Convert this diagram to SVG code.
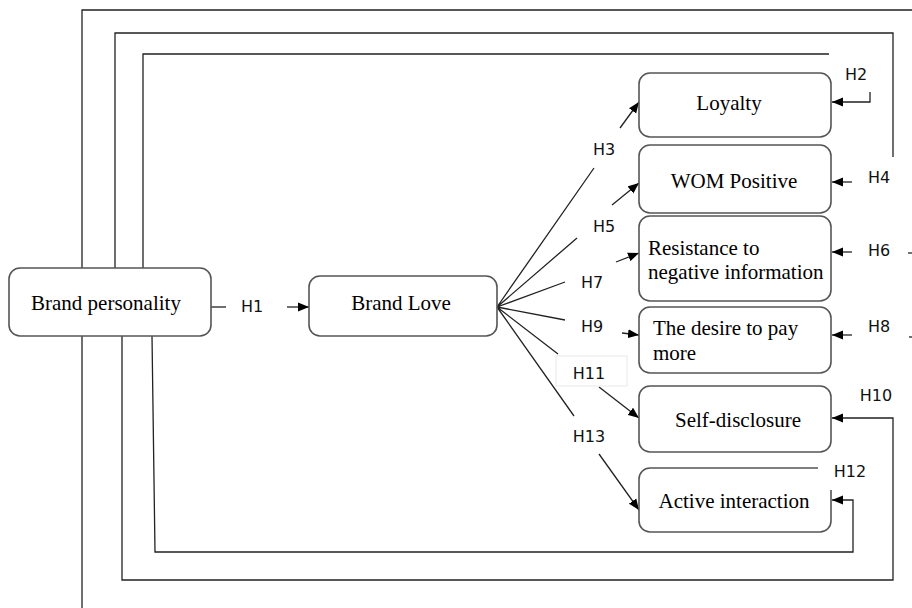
<svg xmlns="http://www.w3.org/2000/svg" width="912" height="608" viewBox="0 0 912 608">
<style>
.node{fill:#fff;stroke:#555;stroke-width:1.6}
.nt{font-family:"Liberation Serif","Times New Roman",serif;font-size:21px;fill:#000}
.ln{fill:none;stroke:#222;stroke-width:1.3}
.lb{font-family:"DejaVu Sans","Verdana",sans-serif;font-size:16px;fill:#111}
</style>
<defs>
<marker id="ah" markerUnits="userSpaceOnUse" markerWidth="12" markerHeight="10" refX="11" refY="5" orient="auto">
<path d="M0,0.5 L11,5 L0,9.5 Z" fill="#000"/>
</marker>
</defs>
<rect width="912" height="608" fill="#fff"/>
<g id="connectors">
<path class="ln" d="M82,268 V10 H912"/>
<path class="ln" d="M82,336 V608"/>
<path class="ln" d="M115,268 V33 H893 V157"/>
<path class="ln" d="M122,336 V580 H893 V418 H832" marker-end="url(#ah)"/>
<path class="ln" d="M143,268 V54 H829"/>
<path class="ln" d="M152,336 L155,552 H853 V500 H832" marker-end="url(#ah)"/>
<path class="ln" d="M870,92 V102 H832" marker-end="url(#ah)"/>
<path class="ln" d="M852,182 H832" marker-end="url(#ah)"/>
<path class="ln" d="M852,252 H832" marker-end="url(#ah)"/>
<path class="ln" d="M852,335 H832" marker-end="url(#ah)"/>
<path class="ln" d="M908,253 H912"/>
<path class="ln" d="M909,337 H912"/>
<path class="ln" d="M211,307 H226"/>
<path class="ln" d="M287,307 H309" marker-end="url(#ah)"/>
<path class="ln" d="M497,307 L594,168 M497,307 L577,238 M497,307 L565,282 M497,307 L565,320 M497,307 L558,354 M497,307 L574,416"/>
<path class="ln" d="M620,128 L639,102" marker-end="url(#ah)"/>
<path class="ln" d="M612,205 L639,183" marker-end="url(#ah)"/>
<path class="ln" d="M616,262 L639,253" marker-end="url(#ah)"/>
<path class="ln" d="M622,333 L639,335" marker-end="url(#ah)"/>
<path class="ln" d="M599,387 L639,418" marker-end="url(#ah)"/>
<path class="ln" d="M599,454 L639,510" marker-end="url(#ah)"/>
</g>
<g id="brand-personality">
<rect class="node" x="9" y="268" width="202" height="68" rx="11"/>
<text class="nt" x="106" y="310" text-anchor="middle">Brand personality</text>
</g>
<g id="brand-love">
<rect class="node" x="309" y="276" width="188" height="60" rx="11"/>
<text class="nt" x="401" y="310" text-anchor="middle">Brand Love</text>
</g>
<g id="loyalty">
<rect class="node" x="639" y="73" width="192" height="64" rx="11"/>
<text class="nt" x="729" y="110" text-anchor="middle">Loyalty</text>
</g>
<g id="wom-positive">
<rect class="node" x="639" y="145" width="192" height="68" rx="11"/>
<text class="nt" x="734" y="188" text-anchor="middle">WOM Positive</text>
</g>
<g id="resistance">
<rect class="node" x="639" y="216" width="192" height="85" rx="11"/>
<text class="nt" x="648" y="255">Resistance to</text>
<text class="nt" x="648" y="279">negative information</text>
</g>
<g id="desire-to-pay">
<rect class="node" x="639" y="307" width="192" height="66" rx="11"/>
<text class="nt" x="653" y="335">The desire to pay</text>
<text class="nt" x="653" y="360">more</text>
</g>
<g id="self-disclosure">
<rect class="node" x="639" y="386" width="192" height="66" rx="11"/>
<text class="nt" x="738" y="427" text-anchor="middle">Self-disclosure</text>
</g>
<g id="active-interaction">
<rect class="node" x="639" y="468" width="192" height="64" rx="11"/>
<text class="nt" x="734" y="508" text-anchor="middle">Active interaction</text>
</g>
<g id="labels">
<text class="lb" x="252" y="312" text-anchor="middle">H1</text>
<text class="lb" x="856" y="80" text-anchor="middle">H2</text>
<text class="lb" x="604" y="155" text-anchor="middle">H3</text>
<text class="lb" x="879" y="183" text-anchor="middle">H4</text>
<text class="lb" x="604" y="232" text-anchor="middle">H5</text>
<text class="lb" x="879" y="256" text-anchor="middle">H6</text>
<text class="lb" x="592" y="288" text-anchor="middle">H7</text>
<text class="lb" x="879" y="332" text-anchor="middle">H8</text>
<text class="lb" x="592" y="332" text-anchor="middle">H9</text>
<rect x="556" y="356" width="71" height="30" fill="#fff" stroke="#e8e8e8" stroke-width="1"/>
<text class="lb" x="589" y="379" text-anchor="middle">H11</text>
<text class="lb" x="876" y="401" text-anchor="middle">H10</text>
<text class="lb" x="589" y="442" text-anchor="middle">H13</text>
<rect x="818" y="460" width="52" height="30" fill="#fff"/>
<text class="lb" x="850" y="477" text-anchor="middle">H12</text>
</g>
</svg>
